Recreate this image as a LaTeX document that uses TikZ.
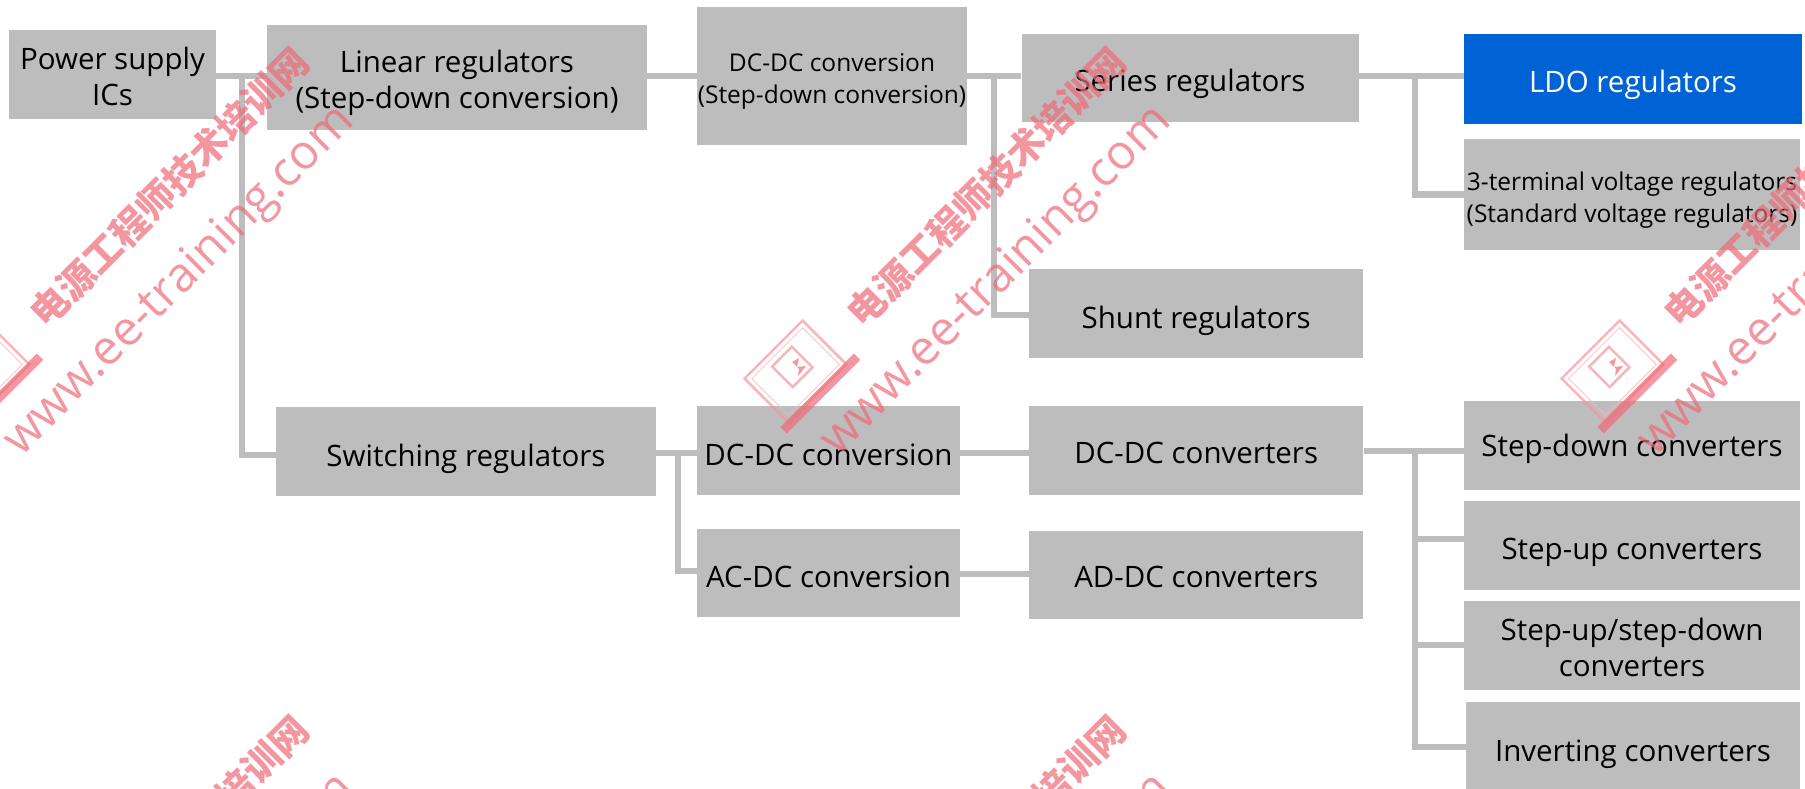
\documentclass[tikz,border=0pt]{standalone}
\usepackage{fontspec}
\setmainfont{Open Sans}
\newfontfamily\cjkfont{Noto Sans CJK SC}
\definecolor{boxgrey}{HTML}{BDBDBD}
\definecolor{ldoblue}{HTML}{0063D5}
\definecolor{markpink}{HTML}{EE6A78}
\newcommand{\wmark}[3]{%
  \node[marktext, rotate=45, font=\cjkfont\bfseries\fontsize{37.5}{38}\selectfont] (cn#1) at (#2+169,#3+187) {电源工程师技术培训网};
  \node[marktext, rotate=45, font=\fontsize{48}{50}\selectfont] (url#1) at (#2+180,#3+282) {www.ee-training.com};
  % logo
  \begin{scope}[shift={(#2-21.5,#3+371.5)}, rotate=45, opacity=.7]
    \draw[markpink!70, line width=2.5pt] (-41,-31) rectangle (41,31);
    \draw[markpink!50, line width=1pt] (-36,-26) rectangle (36,26);
    \draw[markpink, line width=9pt] (-50,33) -- (54,33);
    \draw[markpink!70, line width=2.5pt] (-13,-20) rectangle (15,9);
    \fill[markpink, rotate=-45, shift={(3.5,-3.5)}] (-7,-6) -- (0,-10) -- (-2,-1) -- (7,-2) -- (-1,8) -- (0,1) -- cycle;
  \end{scope}
}
\begin{document}
\begin{tikzpicture}[
    x=1pt, y=-1pt,
    every node/.style={font=\fontsize{29.5}{36.5}\selectfont},
    box/.style n args={3}{fill=boxgrey, text=black, align=center, inner sep=0pt,
      minimum width=#1, minimum height=#2, text height=#3, text depth=0pt},
    smalltext/.style={font=\fontsize{24.5}{32}\selectfont},
    link/.style={draw=boxgrey, line width=6.5pt},
    marktext/.style={text=markpink, opacity=.7, inner sep=0pt}
  ]
    \useasboundingbox (0,0) rectangle (1805,788);
    \clip (0,0) rectangle (1805,788);
    \coordinate (t1) at (242,76);
    \coordinate (t2) at (678,453);
    \coordinate (t3) at (994,76);
    \coordinate (t4) at (1415,76);
    \coordinate (t5) at (1415,451);
    \node[box={207pt}{89pt}{62.5pt}] (power) at (112.5,74.5) {Power supply\\ICs};
    \node[box={380pt}{105pt}{63.5pt}] (linear) at (457,77) {Linear regulators\\(Step-down conversion)};
    \node[box={380pt}{89pt}{29.5pt}] (switching) at (466,451.5) {Switching regulators};
    \node[box={270pt}{138pt}{55pt}, smalltext] (dctop) at (832,76) {DC-DC conversion\\(Step-down conversion)};
    \node[box={337pt}{88.5pt}{27pt}] (series) at (1190,78) {Series regulators};
    \node[box={334.5pt}{89pt}{29.5pt}] (shunt) at (1196.2,313.5) {Shunt regulators};
    \node[box={263pt}{89pt}{31.5pt}] (dclow) at (828.5,450) {DC-DC conversion};
    \node[box={263pt}{88.5pt}{29.5pt}] (ac) at (828.5,573) {AC-DC conversion};
    \node[box={334.5pt}{89pt}{27pt}] (dcconv) at (1196.2,450) {DC-DC converters};
    \node[box={334.5pt}{88.5pt}{25pt}] (adconv) at (1196.2,575) {AD-DC converters};
    \node[box={338pt}{90pt}{27pt}, fill=ldoblue, text=white] (ldo) at (1633,79) {LDO regulators};
    \node[box={336pt}{111pt}{55pt}, smalltext] (threeterm) at (1632,194.5) {3-terminal voltage regulators\\(Standard voltage regulators)};
    \node[box={336pt}{89pt}{22.5pt}] (stepdown) at (1632,445) {Step-down converters};
    \node[box={336pt}{89pt}{29.5pt}] (stepup) at (1632,545) {Step-up converters};
    \node[box={336pt}{89pt}{63.5pt}] (stepboth) at (1632,645) {Step-up/step-down\\converters};
    \node[box={334pt}{90pt}{29.5pt}] (inverting) at (1633,747) {Inverting converters};
    \draw[link] (power.east |- t1) -- (linear.west |- t1);
    \draw[link] (t1) |- ([yshift=-3.5pt]switching.west);
    \draw[link] (linear.east |- t1) -- (dctop.west |- t1);
    \draw[link] (dctop.east |- t3) -- (series.west |- t3);
    \draw[link] (t3) |- ([yshift=-1.5pt]shunt.west);
    \draw[link] (series.east |- t4) -- (ldo.west |- t4);
    \draw[link] (t4) |- (threeterm.west);
    \draw[link] (switching.east |- t2) -- (dclow.west |- t2);
    \draw[link] (t2) |- ([yshift=2pt]ac.west);
    \draw[link] (dclow.east |- t2) -- (dcconv.west |- t2);
    \draw[link] ([yshift=-1pt]ac.east) -- ([yshift=-1pt]ac.east -| adconv.west);
    \draw[link] (dcconv.east |- t5) -- (stepdown.west |- t5);
    \draw[link] (t5) |- ([yshift=6pt]stepup.west);
    \draw[link] (t5) |- (stepboth.west);
    \draw[link] (t5) |- (inverting.west);
    % watermark
    \foreach \n/\dx/\dy in {a/0/0, b/817/0, c/1634/0, d/0/668, e/817/668} {
      \wmark{\n}{\dx}{\dy}
    }
\end{tikzpicture}
\end{document}
